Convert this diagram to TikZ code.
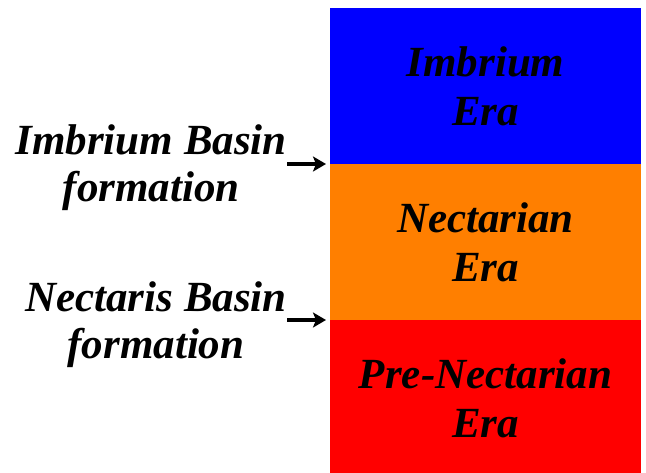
\documentclass[tikz,border=0pt]{standalone}
\usepackage{fontspec}
\setmainfont{Liberation Serif}
\usepackage{tikz}
\usetikzlibrary{arrows.meta,positioning}

\begin{document}
\begin{tikzpicture}[
    x=1pt, y=-1pt,
    node distance=0pt,
    era/.style={minimum width=311pt, minimum height=156pt, inner sep=0pt, outer sep=0pt,
      align=center, font=\fontsize{43}{49}\selectfont\bfseries\itshape},
    event/.style={anchor=east, inner sep=0pt, align=center,
      font=\fontsize{43}{47}\selectfont\bfseries\itshape},
    arr/.style={line width=3.6pt, -{Stealth[length=13pt, width=15pt, inset=3pt]}, shorten >=4pt}
  ]
    \useasboundingbox (0,0) rectangle (646,472);
    % eras
    \node[era, fill={rgb,255:red,0;green,0;blue,255}] (imb) at (485.5,86) {Imbrium\\Era};
    \node[era, fill={rgb,255:red,255;green,127;blue,0}, below=of imb] (nec) {Nectarian\\Era};
    \node[era, fill={rgb,255:red,255;green,0;blue,0}, below=of nec] (pre) {Pre-Nectarian\\Era};
    % basin formations
    \node[event] (imbB) at (287,168) {Imbrium Basin\\formation};
    \node[event] (necB) at (287,325) {Nectaris Basin\\formation};
    \draw[arr] (imbB.east |- imb.south west) -- (imb.south west);
    \draw[arr] (necB.east |- nec.south west) -- (nec.south west);
\end{tikzpicture}
\end{document}
